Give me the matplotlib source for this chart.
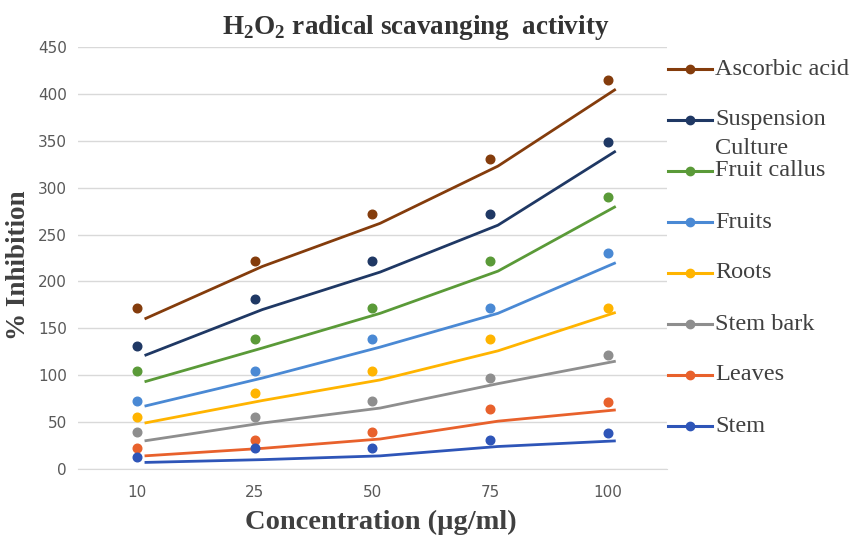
import matplotlib
matplotlib.use("Agg")
import matplotlib.pyplot as plt
from matplotlib.lines import Line2D

# data
concentrations = ["10", "25", "50", "75", "100"]
series_names = ["Ascorbic acid", "Suspension Culture", "Fruit callus", "Fruits",
                "Roots", "Stem bark", "Leaves", "Stem"]
series_colors = ["#843C0C", "#1F3864", "#5A9A38", "#4A89D4",
                 "#FFB400", "#8E8E8E", "#E8612C", "#2E55B8"]

# measured points (dots)
ascorbic_pts = [172, 222, 272, 331, 415]
suspension_pts = [131, 181, 222, 272, 349]
callus_pts = [105, 139, 172, 222, 290]
fruits_pts = [72, 105, 139, 172, 230]
roots_pts = [55, 81, 105, 139, 172]
bark_pts = [39, 55, 72, 97, 122]
leaves_pts = [22, 31, 39, 64, 71]
stem_pts = [13, 22, 22, 31, 38]

# fitted lines
ascorbic_line = [160, 216, 262, 323, 405]
suspension_line = [121, 170, 210, 260, 339]
callus_line = [93, 129, 166, 211, 280]
fruits_line = [67, 97, 130, 166, 220]
roots_line = [49, 73, 95, 126, 167]
bark_line = [30, 49, 65, 91, 115]
leaves_line = [14, 22, 32, 51, 63]
stem_line = [7, 10, 14, 24, 30]

points = [ascorbic_pts, suspension_pts, callus_pts, fruits_pts,
          roots_pts, bark_pts, leaves_pts, stem_pts]
lines = [ascorbic_line, suspension_line, callus_line, fruits_line,
         roots_line, bark_line, leaves_line, stem_line]

W, H = 853, 541
fig = plt.figure(figsize=(W / 100, H / 100), dpi=100)
ax = fig.add_axes([78 / W, 1 - 469 / H, (667 - 78) / W, (469 - 47) / H])

x = list(range(len(concentrations)))
line_shift = 0.065  # lines sit slightly right of the dots in the original
for pts, ln, col in zip(points, lines, series_colors):
    ax.plot([v + line_shift for v in x], ln, color=col, lw=2.0,
            solid_capstyle="butt", zorder=3)
    ax.plot(x, pts, "o", color=col, ms=6.2, zorder=4)

ax.set_xlim(-0.5, len(x) - 0.5)
ax.set_ylim(0, 450)
ax.set_yticks(range(0, 451, 50))
ax.set_xticks(x)
ax.set_xticklabels(concentrations)
ax.grid(axis="y", color="#d9d9d9", lw=1.0)
ax.set_axisbelow(True)
for s in ["top", "right", "left"]:
    ax.spines[s].set_visible(False)
ax.spines["bottom"].set_color("#d9d9d9")
ax.tick_params(length=0, labelsize=11, colors="#595959", pad=8)
for lab in ax.get_xticklabels():
    lab.set_y(-0.012)

plt.rcParams["mathtext.fontset"] = "custom"
plt.rcParams["mathtext.rm"] = "Liberation Serif:bold"

fig.text(416 / W, 1 - 28 / H, r"H$_2$O$_2$ radical scavanging  activity",
         ha="center", va="center", family="Liberation Serif",
         weight="bold", size=19.5, color="#333333")
fig.text(19 / W, 1 - 265 / H, "% Inhibition", rotation=90, ha="center",
         va="center", family="Liberation Serif", weight="bold", size=19.5,
         color="#404040")
fig.text(381 / W, 1 - 522 / H, "Concentration (µg/ml)", ha="center",
         va="center", family="Liberation Serif", weight="bold", size=20.5,
         color="#404040")

# legend drawn by hand to mimic the original layout
for i, (name, col) in enumerate(zip(series_names, series_colors)):
    yy = 1 - (69 + 51 * i) / H
    fig.add_artist(Line2D([668 / W, 712 / W], [yy, yy], color=col, lw=2.2,
                          transform=fig.transFigure))
    fig.add_artist(Line2D([690 / W], [yy], marker="o", ms=6, color=col,
                          transform=fig.transFigure))
    first = name.split(" Culture")[0]
    fig.text(715 / W, yy, first, ha="left", va="center",
             family="Liberation Serif", size=17.5, color="#404040")
    if name == "Suspension Culture":
        fig.text(715 / W, yy - 28 / H, "Culture", ha="left", va="center",
                 family="Liberation Serif", size=17.5, color="#404040")

fig.savefig("out.png", dpi=100)
